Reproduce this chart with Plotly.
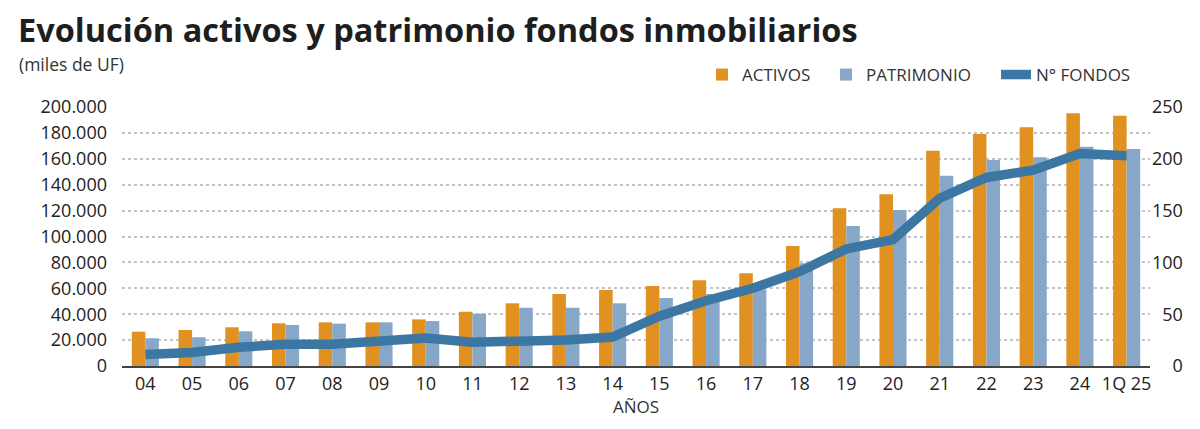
import plotly.graph_objects as go

# ---- data ----
anios = ["04", "05", "06", "07", "08", "09", "10", "11", "12", "13", "14",
         "15", "16", "17", "18", "19", "20", "21", "22", "23", "24", "1Q 25"]
activos = [26500, 27800, 29900, 33000, 33700, 33700, 36000, 41900, 48400, 55600, 58700,
           61800, 66200, 71600, 92700, 121800, 132600, 166300, 179200, 184300, 195100, 193300]
patrimonio = [21400, 22200, 26800, 31700, 32700, 33700, 34700, 40400, 45000, 45000, 48400,
              52500, 55600, 59200, 79300, 108100, 120500, 147000, 159100, 161200, 169300, 167600]
fondos = [11, 13, 18, 21, 21, 24, 27, 23, 23, 25, 28,
          48, 63, 75, 91, 113, 122, 162, 182, 189, 205, 203]
right_ticks = [0, 50, 100, 150, 200, 250]

# ---- layout geometry (pixels) ----
W, H = 1200, 429
L, R, T, B = 122, 1150, 107, 366


def px_x(x):
    return (x - L) / (R - L)


def px_y(y):
    return (B - y) / (B - T)


ORANGE = "#E0911F"
BLUE = "#87A7C9"
LINE = "#3C77A4"
TXT = "#222222"
FONT = "Open Sans"

fig = go.Figure()
fig.add_trace(go.Bar(x=anios, y=activos, name="ACTIVOS", marker_color=ORANGE,
                     marker_line_width=0, legend="legend"))
fig.add_trace(go.Bar(x=anios, y=patrimonio, name="PATRIMONIO", marker_color=BLUE,
                     marker_line_width=0, legend="legend2"))
fig.add_trace(go.Scatter(x=anios, y=fondos, name="N° FONDOS", mode="lines",
                         line=dict(color=LINE, width=9.5), yaxis="y2", legend="legend3"))

fig_font = dict(family=FONT, size=18, color=TXT)
leg_common = dict(orientation="h", yanchor="middle", xanchor="left",
                  font=dict(family=FONT, size=17, color="#333333"),
                  bgcolor="rgba(0,0,0,0)", borderwidth=0)

fig.update_layout(
    width=W, height=H,
    margin=dict(l=L, r=W - R, t=T, b=H - B, pad=0),
    paper_bgcolor="white", plot_bgcolor="white",
    font=fig_font,
    separators=",.",
    barmode="group", bargap=0.42, bargroupgap=0,
    showlegend=True,
    legend=dict(x=px_x(702), y=px_y(75), **leg_common),
    legend2=dict(x=px_x(826), y=px_y(75), **leg_common),
    legend3=dict(x=px_x(996), y=px_y(75), **leg_common),
    xaxis=dict(type="category", showline=True, linecolor="#444444", linewidth=2,
               ticks="", showgrid=False, tickfont=dict(family=FONT, size=18, color=TXT),
               title=dict(text="AÑOS", font=dict(family=FONT, size=17, color="#333333"),
                          standoff=4)),
    yaxis=dict(range=[0, 200000], dtick=20000, tickformat=",d", showgrid=True,
               gridcolor="#c4c4c4", griddash="dot", gridwidth=1.5, zeroline=False,
               showline=False, ticks="", ticklabelstandoff=14,
               tickfont=dict(family=FONT, size=18, color=TXT)),
    yaxis2=dict(range=[0, 250], overlaying="y", side="right", showgrid=False,
                zeroline=False, showline=False, ticks="", ticklabelstandoff=1,
                tickvals=right_ticks,
                ticktext=[("\u2007" * (3 - len(str(v)))) + str(v) for v in right_ticks],
                tickfont=dict(family=FONT, size=18, color=TXT)),
)

fig.add_annotation(text="<b>Evolución activos y patrimonio fondos inmobiliarios</b>",
                   xref="paper", yref="paper", x=px_x(17), y=px_y(6),
                   xanchor="left", yanchor="top", showarrow=False, borderpad=0,
                   font=dict(family=FONT, size=32.5, color="#1e1e1e"))
fig.add_annotation(text="(miles de UF)",
                   xref="paper", yref="paper", x=px_x(18), y=px_y(50.5),
                   xanchor="left", yanchor="top", showarrow=False, borderpad=0,
                   font=dict(family=FONT, size=17.5, color="#333333"))

fig.write_html("out.html", post_script="document.body.style.margin='0';",
               config={"displayModeBar": False})
